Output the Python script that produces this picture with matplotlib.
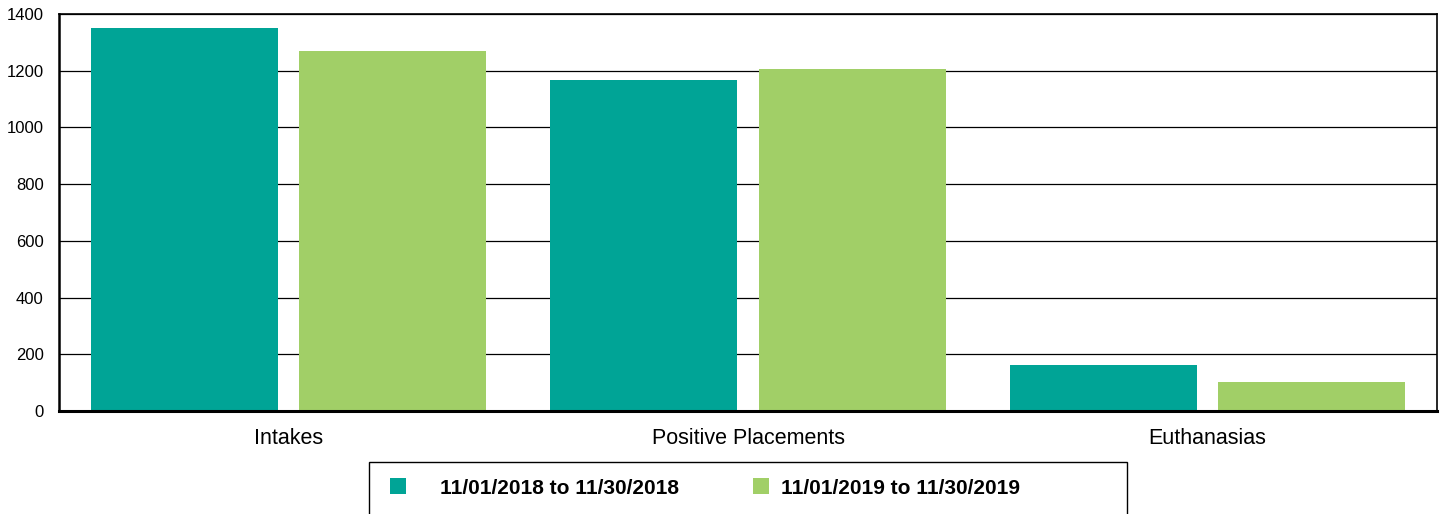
import matplotlib

matplotlib.use("Agg")
import matplotlib.pyplot as plt
import numpy as np
from matplotlib.patches import Rectangle

plt.rcParams["font.family"] = ["Liberation Sans", "DejaVu Sans"]

categories = ["Intakes", "Positive Placements", "Euthanasias"]
series_labels = ["11/01/2018 to 11/30/2018", "11/01/2019 to 11/30/2019"]
values_2018 = [1350, 1167, 162]
values_2019 = [1269, 1206, 102]
yticks = [0, 200, 400, 600, 800, 1000, 1200, 1400]

TEAL = "#00a496"
GREEN = "#a1cf67"

fig = plt.figure(figsize=(14.44, 5.14), dpi=100)
ax = fig.add_axes([59 / 1444, 1 - 411 / 514, 1378 / 1444, 397 / 514])

x = np.arange(len(categories))
w = 0.407
off = 0.2265
b1 = ax.bar(x - off, values_2018, w, color=TEAL, label=series_labels[0], zorder=3)
b2 = ax.bar(x + off, values_2019, w, color=GREEN, label=series_labels[1], zorder=3)

ax.set_xlim(-0.5, len(categories) - 0.5)
ax.set_ylim(0, 1400)
ax.set_yticks(yticks)
ax.set_xticks(x)
ax.set_xticklabels(categories, fontsize=15.5)
ax.tick_params(axis="y", length=0, pad=11, labelsize=12)
ax.tick_params(axis="x", length=0, pad=12)
ax.yaxis.grid(True, color="black", lw=0.9, zorder=0)
ax.set_axisbelow(True)

for side, lw in [("left", 1.8), ("bottom", 2.2), ("top", 1.2), ("right", 1.2)]:
    ax.spines[side].set_linewidth(lw)
    ax.spines[side].set_color("black")
ax.spines["bottom"].set_zorder(4)

# legend box runs off the bottom of the image
fig.patches.append(
    Rectangle((369 / 1444, -0.1), (1127 - 369) / 1444, 1 - 462 / 514 + 0.1,
              transform=fig.transFigure, fill=False, edgecolor="black", lw=1.0)
)
# two single-entry legends: the gap between swatch and text differs per entry
for handle, anchor_x, textpad in [(b1, 371, 1.6), (b2, 734, 0.55)]:
    fig.legend(
        handles=[handle], loc="center left", bbox_to_anchor=(anchor_x / 1444, 1 - 488 / 514),
        frameon=False, prop={"weight": "bold", "size": 15},
        handlelength=0.8, handleheight=0.8, handletextpad=textpad,
    )

fig.savefig("out.png", dpi=100)
